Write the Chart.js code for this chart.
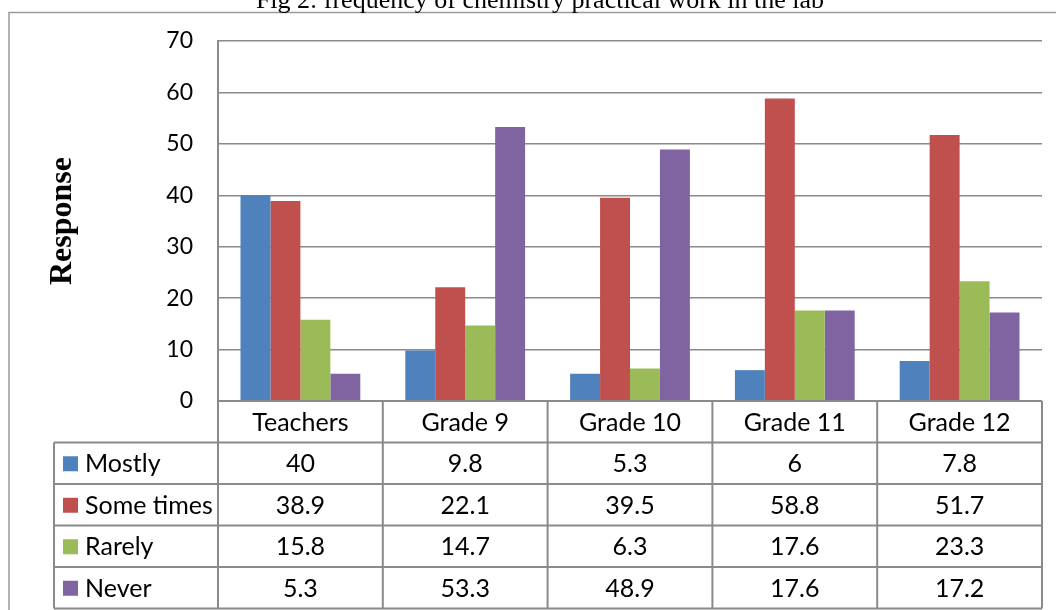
<!DOCTYPE html>
<html>
<head>
<meta charset="utf-8">
<script src="https://cdn.jsdelivr.net/npm/chart.js@4/dist/chart.umd.min.js"></script>
<style>
  html, body { margin: 0; padding: 0; background: #fff; }
  #wrap { width: 1056px; height: 610px; }
</style>
</head>
<body>
<div id="wrap"><canvas id="c" width="1056" height="610"></canvas></div>
<script>
const categories = ["Teachers", "Grade 9", "Grade 10", "Grade 11", "Grade 12"];
const seriesNames = ["Mostly", "Some times", "Rarely", "Never"];
const mostly = [40, 9.8, 5.3, 6, 7.8];
const someTimes = [38.9, 22.1, 39.5, 58.8, 51.7];
const rarely = [15.8, 14.7, 6.3, 17.6, 23.3];
const never = [5.3, 53.3, 48.9, 17.6, 17.2];
const yTicks = [0, 10, 20, 30, 40, 50, 60, 70];
const colors = ["#4F81BD", "#C0504D", "#9BBB59", "#8064A2"];
const chartTitle = "Fig 2: frequency of chemistry practical work in the lab";
const yTitle = "Response";

const seriesValues = [mostly, someTimes, rarely, never];
const FONT = "Lato";
const LINE = "#8a8a8a";

const tablePlugin = {
  id: "tablePlugin",
  afterDraw(chart) {
    const ctx = chart.ctx;
    const area = chart.chartArea;
    const xs = chart.scales.x;
    const colW = (area.right - area.left) / categories.length;
    const rowH = 41.5;
    const top = area.bottom;
    const legendLeft = 54;
    ctx.save();
    // frame
    ctx.strokeStyle = "#9a9a9a";
    ctx.lineWidth = 1.5;
    ctx.beginPath();
    ctx.moveTo(9, 610); ctx.lineTo(9, 12.5); ctx.lineTo(1056, 12.5);
    ctx.stroke();
    // title
    ctx.fillStyle = "#000";
    ctx.font = "26px 'Liberation Serif'";
    ctx.textAlign = "center";
    ctx.textBaseline = "alphabetic";
    ctx.fillText(chartTitle, 540, 8);
    // table lines
    ctx.strokeStyle = LINE;
    ctx.lineWidth = 2;
    ctx.beginPath();
    ctx.moveTo(area.left, top); ctx.lineTo(area.right, top);
    for (let r = 1; r <= seriesNames.length + 1; r++) {
      const y = top + r * rowH;
      ctx.moveTo(legendLeft, y); ctx.lineTo(area.right, y);
    }
    const bottom = top + (seriesNames.length + 1) * rowH;
    ctx.moveTo(legendLeft, top + rowH); ctx.lineTo(legendLeft, bottom);
    for (let i = 0; i <= categories.length; i++) {
      const x = area.left + i * colW;
      ctx.moveTo(x, top); ctx.lineTo(x, bottom);
    }
    ctx.stroke();
    // text
    ctx.font = "25px " + FONT;
    ctx.fillStyle = "#000";
    ctx.textBaseline = "middle";
    ctx.textAlign = "center";
    categories.forEach((c, i) => {
      ctx.fillText(c, xs.getPixelForValue(i), top + rowH / 2 + 1);
    });
    seriesNames.forEach((s, r) => {
      const yc = top + (r + 1) * rowH + rowH / 2 + 1;
      ctx.fillStyle = colors[r];
      ctx.fillRect(63, yc - 8, 15, 15);
      ctx.fillStyle = "#000";
      ctx.textAlign = "left";
      ctx.fillText(s, 85, yc);
      ctx.textAlign = "center";
      seriesValues[r].forEach((v, i) => {
        ctx.fillText(String(v), xs.getPixelForValue(i), yc);
      });
    });
    ctx.restore();
  }
};

new Chart(document.getElementById("c"), {
  type: "bar",
  data: {
    labels: categories,
    datasets: seriesNames.map((n, k) => ({
      label: n,
      data: seriesValues[k],
      backgroundColor: colors[k],
      borderWidth: 0,
      categoryPercentage: 0.727,
      barPercentage: 1.0
    }))
  },
  options: {
    responsive: false,
    animation: false,
    layout: { padding: { left: 0, right: 14, top: 41, bottom: 209 } },
    plugins: { legend: { display: false }, title: { display: false }, tooltip: { enabled: false } },
    scales: {
      x: { display: false },
      y: {
        min: 0, max: 70,
        afterFit(s) { s.width = 218; },
        afterBuildTicks(s) { s.ticks = yTicks.map(v => ({ value: v })); },
        ticks: { padding: 25, color: "#000", font: { family: FONT, size: 23 } },
        grid: { color: LINE, lineWidth: 1.5, drawTicks: false },
        border: { display: true, color: LINE, width: 2 },
        title: {
          display: true, text: yTitle, color: "#000",
          font: { family: "Liberation Serif", size: 32, weight: "bold" },
          padding: { top: 44, bottom: 0 }
        }
      }
    }
  },
  plugins: [tablePlugin]
});
</script>
</body>
</html>
